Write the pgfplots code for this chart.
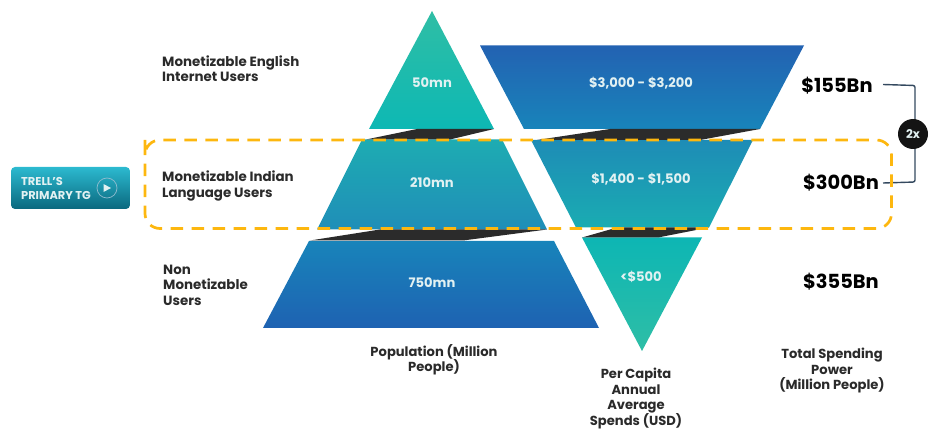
\documentclass[border=0pt]{standalone}
\usepackage{pgfplots}
\pgfplotsset{compat=1.18}
\usepackage{fontspec}
\setmainfont{Poppins}
\definecolor{ink}{HTML}{2A2A2A}
\definecolor{band}{HTML}{2B2B2B}
\definecolor{orange}{HTML}{FDB70F}
\definecolor{soft}{HTML}{E2F1F2}
\definecolor{brk}{HTML}{34495F}
\newcommand{\lab}[3]{\node[inner sep=0,anchor=base west,text=ink,font=\fontsize{13.4}{15}\selectfont\bfseries] at (axis cs:#1,#2) {#3};}
\newcommand{\cen}[3]{\node[inner sep=0,anchor=base,text=ink,font=\fontsize{13.1}{15}\selectfont\bfseries] at (axis cs:#1,#2) {#3};}
\newcommand{\val}[3]{\node[inner sep=0,anchor=center,text=soft,font=\fontsize{13.1}{15}\selectfont\bfseries] at (axis cs:#1,#2) {#3};}
\newcommand{\bn}[3]{\node[inner sep=0,anchor=center,text=black,font=\fontsize{19.4}{21}\selectfont\bfseries] at (axis cs:#1,#2) {#3};}
\begin{document}
\begin{tikzpicture}
\begin{axis}[
  scale only axis, width=940pt, height=430pt,
  xmin=0, xmax=940, ymin=0, ymax=430, y dir=reverse,
  hide axis, clip=false, axis line style={draw=none},
  every axis plot/.append style={mark=none, sharp plot, forget plot}]
\path (axis cs:0,0) rectangle (axis cs:940,430);
% left pyramid
\addplot[draw=none, top color={rgb,255:red,47;green,190;blue,165}, bottom color={rgb,255:red,13;green,184;blue,180}]
 coordinates {(432,11) (494,129) (369,129)} --cycle;
\addplot[draw=none, top color={rgb,255:red,30;green,172;blue,178}, bottom color={rgb,255:red,31;green,142;blue,184}]
 coordinates {(362,139.5) (502,139.5) (547,229.5) (317,229.5)} --cycle;
\addplot[draw=none, top color={rgb,255:red,24;green,132;blue,186}, middle color={rgb,255:red,10;green,108;blue,188}, bottom color={rgb,255:red,30;green,98;blue,178}]
 coordinates {(309,241) (554,241) (599,328) (263,328)} --cycle;
\addplot[draw=none, fill=band] coordinates {(366,139.5) (417,129) (494,129) (450,139.5)} --cycle;
\addplot[draw=none, fill=band] coordinates {(310,240.5) (380,229.5) (547,229.5) (463,240.5)} --cycle;
% right funnel
\addplot[draw=none, top color={rgb,255:red,35;green,98;blue,178}, middle color={rgb,255:red,10;green,108;blue,186}, bottom color={rgb,255:red,24;green,132;blue,186}]
 coordinates {(480,45.5) (804,45.5) (760,129) (524,129)} --cycle;
\addplot[draw=none, top color={rgb,255:red,30;green,140;blue,182}, bottom color={rgb,255:red,26;green,172;blue,178}]
 coordinates {(531,140) (753,140) (709,227.5) (576,227.5)} --cycle;
\addplot[draw=none, top color={rgb,255:red,13;green,182;blue,180}, bottom color={rgb,255:red,46;green,190;blue,166}]
 coordinates {(582,237.5) (702,237.5) (642,351) } --cycle;
\addplot[draw=none, fill=band] coordinates {(537,140) (610,129) (760,129) (700,140)} --cycle;
\addplot[draw=none, fill=band] coordinates {(582,237.5) (617,227.5) (709,227.5) (658,237.5)} --cycle;
% bracket
\addplot[draw=brk, line width=1.4pt, rounded corners=2pt] coordinates {(883,84.5) (915,85.5) (915,182) (883,183)};
% dashed box (drawn as last plot so that it lies on the shapes)
\addplot[orange, line width=2.7pt, dash pattern=on 12.5pt off 8.5pt, rounded corners=15pt]
 coordinates {(145,155) (145,140) (891.5,140) (891.5,228.5) (145,228.5)} --cycle;
% badge
\fill[black!92] (axis cs:913,134) circle[radius=15pt];
\node[inner sep=0,text=soft,font=\fontsize{12}{13}\selectfont\bfseries] at (axis cs:913,134) {2x};
% button
\path[rounded corners=4pt, top color={rgb,255:red,44;green,186;blue,208}, bottom color={rgb,255:red,10;green,104;blue,126}]
 (axis cs:11,167) rectangle (axis cs:130,209);
\node[inner sep=0,anchor=base west,text=soft,font=\fontsize{11.4}{12}\selectfont\bfseries] at (axis cs:21,186) {TRELL'S};
\node[inner sep=0,anchor=base west,text=soft,font=\fontsize{11.4}{12}\selectfont\bfseries] at (axis cs:21,199.5) {PRIMARY TG};
\draw[white!60!cyan!80!black, line width=.7pt] (axis cs:107,188) circle[radius=10pt];
\fill[soft] (axis cs:103.5,184) -- (axis cs:111,188) -- (axis cs:103.5,192) -- cycle;
% left labels
\lab{162}{66.5}{Monetizable English}
\lab{162}{81.5}{Internet Users}
\lab{162}{182}{Monetizable Indian}
\lab{162}{197.5}{Language Users}
\lab{163}{274.5}{Non}
\lab{163}{290}{Monetizable}
\lab{163}{305.5}{Users}
% inside values
\val{432}{83}{50mn}
\val{432}{183}{210mn}
\val{432}{283}{750mn}
\val{641}{83}{\$3,000 - \$3,200}
\val{641}{179}{\$1,400 - \$1,500}
\val{641}{277}{<\$500}
% totals
\bn{837}{86}{\$155Bn}
\bn{841}{183}{\$300Bn}
\bn{841}{282}{\$355Bn}
% captions
\cen{434}{356.5}{Population (Million}
\cen{434}{371.5}{People)}
\cen{636}{378.5}{Per Capita}
\cen{636}{394}{Annual}
\cen{636}{409.5}{Average}
\cen{636}{425.5}{Spends (USD)}
\cen{832}{358.5}{Total Spending}
\cen{832}{374}{Power}
\cen{832}{389.5}{(Million People)}
\end{axis}
\end{tikzpicture}
\end{document}
